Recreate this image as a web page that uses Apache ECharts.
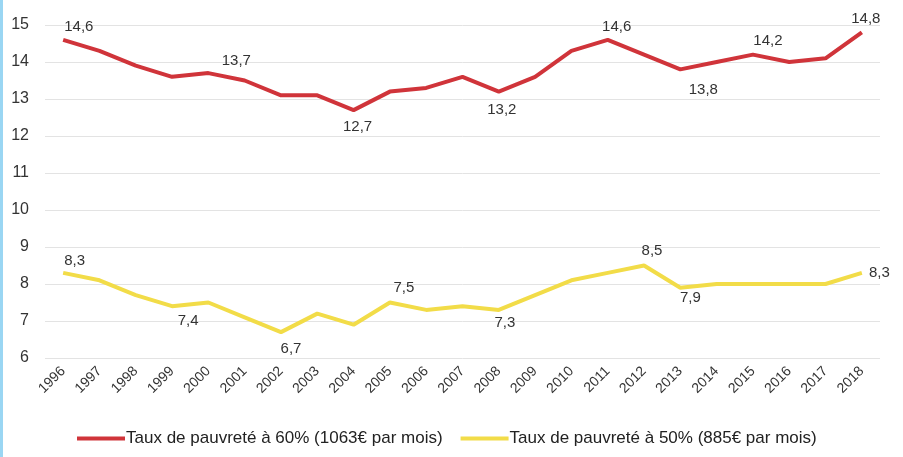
<!DOCTYPE html>
<html>
<head>
<meta charset="utf-8">
<script src="https://cdn.jsdelivr.net/npm/echarts@6/dist/echarts.min.js"></script>
<style>
  html, body { margin: 0; padding: 0; background: #fff; }
  #wrap { width: 900px; height: 457px; border-left: 3px solid #9ad6f3; }
  #chart { width: 900px; height: 457px; }
</style>
</head>
<body>
<div id="wrap"><div id="chart"></div></div>
<script>
  const years = ['1996', '1997', '1998', '1999', '2000', '2001', '2002', '2003', '2004', '2005', '2006', '2007',
    '2008', '2009', '2010', '2011', '2012', '2013', '2014', '2015', '2016', '2017', '2018'];
  const taux60 = [14.6, 14.3, 13.9, 13.6, 13.7, 13.5, 13.1, 13.1, 12.7, 13.2, 13.3, 13.6,
    13.2, 13.6, 14.3, 14.6, 14.2, 13.8, 14.0, 14.2, 14.0, 14.1, 14.8];
  const taux50 = [8.3, 8.1, 7.7, 7.4, 7.5, 7.1, 6.7, 7.2, 6.9, 7.5, 7.3, 7.4,
    7.3, 7.7, 8.1, 8.3, 8.5, 7.9, 8.0, 8.0, 8.0, 8.0, 8.3];
  const serieNames = ['Taux de pauvreté à 60% (1063€ par mois)', 'Taux de pauvreté à 50% (885€ par mois)'];

  // which points get a value label: [position, offset]
  const labels60 = {
    0: ['right', [-4, -13]], 4: ['top', [28, 0]], 8: ['bottom', [4, 4]], 12: ['bottom', [3, 6]],
    15: ['top', [9, 0]], 17: ['bottom', [23, 8]], 19: ['top', [15, -1]], 22: ['top', [4, -1]]
  };
  const labels50 = {
    0: ['right', [-4, -12]], 3: ['bottom', [16, 2]], 6: ['bottom', [10, 4]], 9: ['top', [14, -2]],
    12: ['bottom', [6, 0]], 16: ['top', [8, -2]], 17: ['bottom', [10, -2]], 22: ['right', [2, 0]]
  };

  const font = '"Liberation Sans", Arial, sans-serif';

  function buildData(values, labels) {
    return values.map((v, i) => {
      const cfg = labels[i];
      if (!cfg) return v;
      return {
        value: v,
        label: {
          show: true,
          position: cfg[0],
          offset: cfg[1],
          formatter: p => String(p.value).replace('.', ','),
          color: '#333',
          fontSize: 15,
          fontFamily: font
        }
      };
    });
  }

  const option = {
    animation: false,
    grid: {left: 42, right: 23, top: 25, bottom: 99},
    legend: {
      bottom: 5,
      left: 69,
      itemWidth: 48,
      itemHeight: 4,
      itemGap: 18,
      icon: 'rect',
      textStyle: {color: '#222', fontSize: 17, fontFamily: font, padding: [0, 0, 0, -4]},
      data: serieNames
    },
    xAxis: {
      type: 'category',
      data: years,
      boundaryGap: true,
      axisLine: {show: false},
      axisTick: {show: false},
      axisLabel: {rotate: 45, color: '#333', fontSize: 14, fontFamily: font, margin: 11}
    },
    yAxis: {
      type: 'value',
      min: 6,
      max: 15,
      interval: 1,
      axisLabel: {color: '#333', fontSize: 16, fontFamily: font, margin: 16},
      splitLine: {lineStyle: {color: '#e3e3e3', width: 1}}
    },
    series: [
      {
        name: serieNames[0],
        type: 'line',
        data: buildData(taux60, labels60),
        symbol: 'circle',
        symbolSize: 0.1,
        lineStyle: {color: '#d0343a', width: 4},
        itemStyle: {color: '#d0343a'}
      },
      {
        name: serieNames[1],
        type: 'line',
        data: buildData(taux50, labels50),
        symbol: 'circle',
        symbolSize: 0.1,
        lineStyle: {color: '#f2dc48', width: 4},
        itemStyle: {color: '#f2dc48'}
      }
    ]
  };

  echarts.init(document.getElementById('chart')).setOption(option);
</script>
</body>
</html>
